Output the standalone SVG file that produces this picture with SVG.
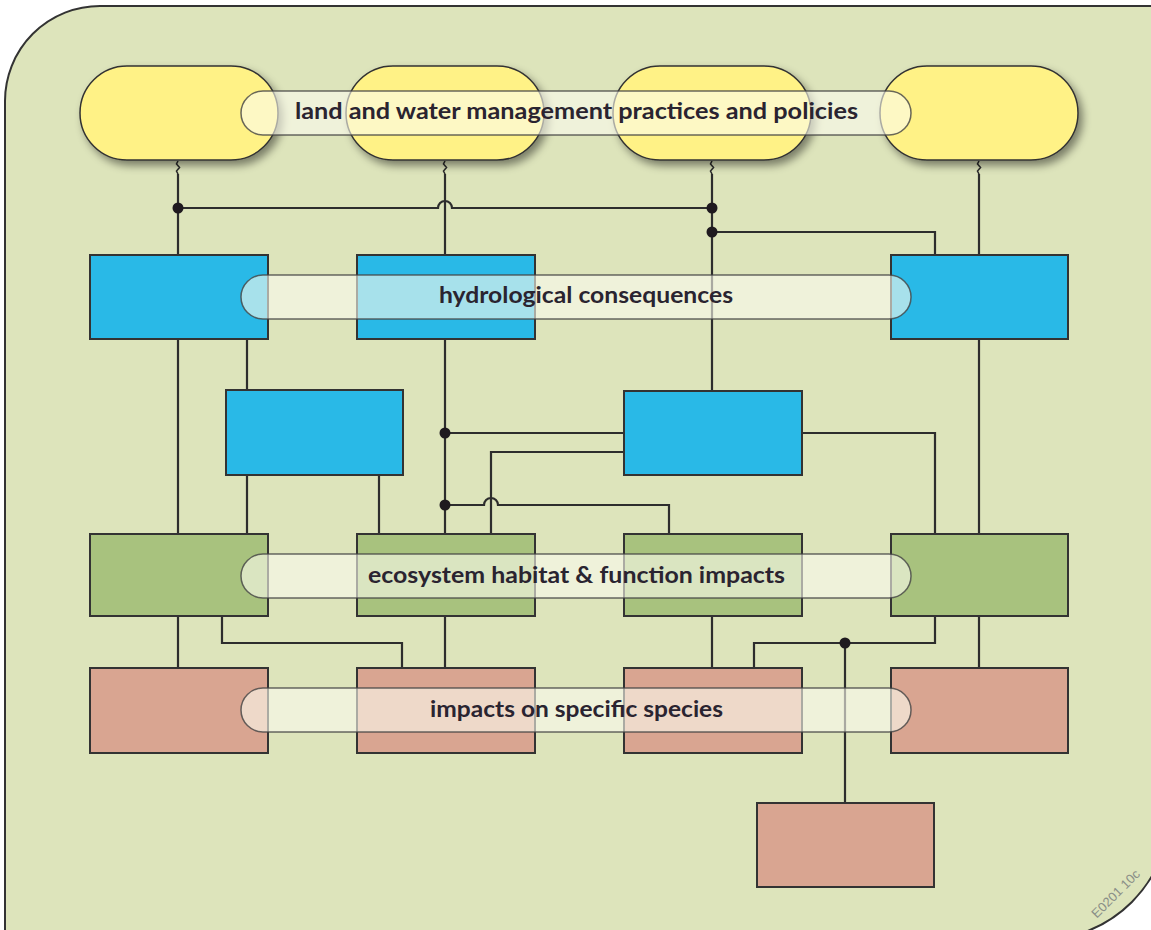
<svg xmlns="http://www.w3.org/2000/svg" width="1151" height="930" viewBox="0 0 1151 930">
<defs>
<filter id="sh" x="-20%" y="-20%" width="150%" height="160%">
<feDropShadow dx="4" dy="5" stdDeviation="4" flood-color="#000" flood-opacity="0.45"/>
</filter>
<style>
.bg{fill:#dde4bb;stroke:#333;stroke-width:2}
.pill{fill:#fff286;stroke:#333;stroke-width:1.5;filter:url(#sh)}
.blue{fill:#29b9e7;stroke:#333;stroke-width:2}
.green{fill:#a8c27e;stroke:#333;stroke-width:2}
.salmon{fill:#d9a591;stroke:#333;stroke-width:2}
.lbl{fill:#fbfbee;fill-opacity:0.6;stroke:#444;stroke-width:1.5;stroke-opacity:0.8}
.conn path{fill:none;stroke:#2d2d2d;stroke-width:2.2}
.conn circle{fill:#1f1a1f}
.t{font-family:Lato,"Open Sans","Liberation Sans",sans-serif;font-weight:bold;font-size:22px;fill:#2a2430;text-anchor:middle}
.code{font-family:"Liberation Sans",Arial,sans-serif;font-size:13px;fill:#8a8f88}
</style>
</defs>
<path class="bg" d="M5,101 A95,95 0 0 1 100,6 H1170 V810 A130,130 0 0 1 1040,940 H5 Z"/>
<g id="connectors" class="conn">
<path d="M178,174 V255"/>
<path d="M445,174 V255"/>
<path d="M712,174 V391"/>
<path d="M979,174 V255"/>
<path d="M178,161 l-1.5,3 l3,3.5 l-3,3.5 l1.5,3 M445,161 l-1.5,3 l3,3.5 l-3,3.5 l1.5,3 M712,161 l-1.5,3 l3,3.5 l-3,3.5 l1.5,3 M979,161 l-1.5,3 l3,3.5 l-3,3.5 l1.5,3" style="stroke-width:1.6"/>
<path d="M178,208 H438 A7,7 0 0 1 452,208 H712"/>
<path d="M712,232 H935 V255"/>
<path d="M178,339 V534"/>
<path d="M247,339 V390"/>
<path d="M247,475 V534"/>
<path d="M379,475 V534"/>
<path d="M445,339 V534"/>
<path d="M445,433 H624"/>
<path d="M624,452 H491 V534"/>
<path d="M445,505 H484 A7,7 0 0 1 498,505 H669 V534"/>
<path d="M802,433 H935 V534"/>
<path d="M979,339 V534"/>
<path d="M178,616 V668"/>
<path d="M222,616 V643 H402 V668"/>
<path d="M445,616 V668"/>
<path d="M712,616 V668"/>
<path d="M754,668 V643 H935 V616"/>
<path d="M845,643 V803"/>
<path d="M979,616 V668"/>
<circle cx="178" cy="208" r="5.5"/>
<circle cx="712" cy="208" r="5.5"/>
<circle cx="712" cy="232" r="5.5"/>
<circle cx="445" cy="433" r="5.5"/>
<circle cx="445" cy="505" r="5.5"/>
<circle cx="845" cy="643" r="5.5"/>
</g>
<g id="policy-1"><rect class="pill" x="80" y="66" width="198" height="94" rx="47"/></g>
<g id="policy-2"><rect class="pill" x="346" y="66" width="198" height="94" rx="47"/></g>
<g id="policy-3"><rect class="pill" x="613" y="66" width="198" height="94" rx="47"/></g>
<g id="policy-4"><rect class="pill" x="880" y="66" width="198" height="94" rx="47"/></g>
<g id="hydro-1"><rect class="blue" x="90" y="255" width="178" height="84"/></g>
<g id="hydro-2"><rect class="blue" x="357" y="255" width="178" height="84"/></g>
<g id="hydro-4"><rect class="blue" x="891" y="255" width="177" height="84"/></g>
<g id="hydro-a"><rect class="blue" x="226" y="390" width="177" height="85"/></g>
<g id="hydro-b"><rect class="blue" x="624" y="391" width="178" height="84"/></g>
<g id="eco-1"><rect class="green" x="90" y="534" width="178" height="82"/></g>
<g id="eco-2"><rect class="green" x="357" y="534" width="178" height="82"/></g>
<g id="eco-3"><rect class="green" x="624" y="534" width="178" height="82"/></g>
<g id="eco-4"><rect class="green" x="891" y="534" width="177" height="82"/></g>
<g id="species-1"><rect class="salmon" x="90" y="668" width="178" height="85"/></g>
<g id="species-2"><rect class="salmon" x="357" y="668" width="178" height="85"/></g>
<g id="species-3"><rect class="salmon" x="624" y="668" width="178" height="85"/></g>
<g id="species-4"><rect class="salmon" x="891" y="668" width="177" height="85"/></g>
<g id="species-5"><rect class="salmon" x="757" y="803" width="177" height="84"/></g>
<g id="label-policies">
<rect class="lbl" x="241" y="91" width="670" height="44" rx="22"/>
<text class="t" x="576.5" y="119" textLength="563" lengthAdjust="spacingAndGlyphs">land and water management practices and policies</text>
</g>
<g id="label-hydro">
<rect class="lbl" x="241" y="275" width="670" height="44" rx="22"/>
<text class="t" x="586" y="303" textLength="294" lengthAdjust="spacingAndGlyphs">hydrological consequences</text>
</g>
<g id="label-eco">
<rect class="lbl" x="241" y="554" width="670" height="44" rx="22"/>
<text class="t" x="576.5" y="583" textLength="417" lengthAdjust="spacingAndGlyphs">ecosystem habitat &amp; function impacts</text>
</g>
<g id="label-species">
<rect class="lbl" x="241" y="688" width="670" height="44" rx="22"/>
<text class="t" x="576.5" y="717" textLength="293" lengthAdjust="spacingAndGlyphs">impacts on specific species</text>
</g>
<text class="code" x="1116" y="898" text-anchor="middle" transform="rotate(-45 1116 894)">E0201 10c</text>
</svg>
